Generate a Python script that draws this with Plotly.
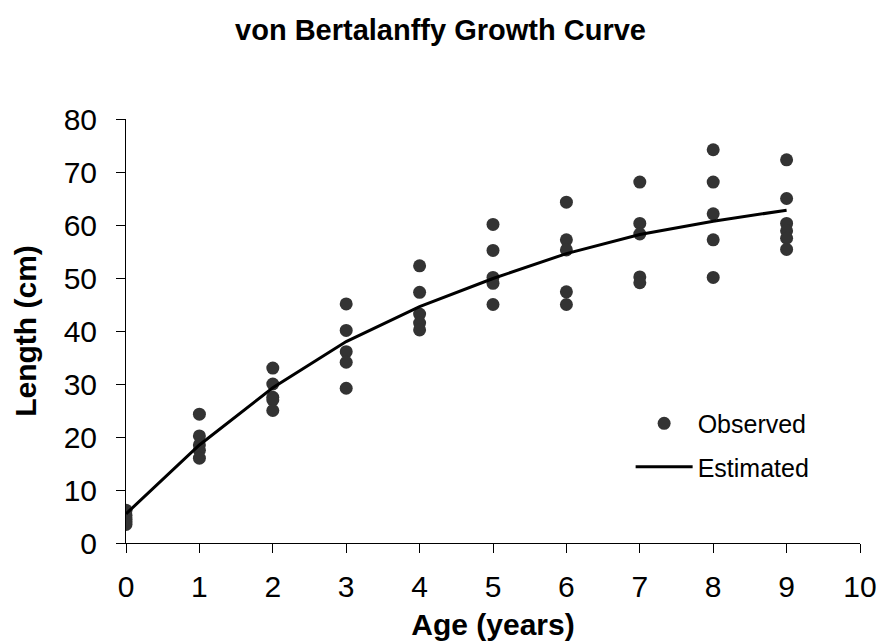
import plotly.graph_objects as go

# Observed data: ages and lengths (cm)
obs_age = [0, 0, 0, 0, 0,
           1, 1, 1, 1, 1,
           2, 2, 2, 2, 2,
           3, 3, 3, 3, 3,
           4, 4, 4, 4, 4,
           5, 5, 5, 5, 5,
           6, 6, 6, 6, 6,
           7, 7, 7, 7, 7,
           8, 8, 8, 8, 8,
           9, 9, 9, 9, 9, 9]
obs_len = [6.2, 5.2, 4.5, 4.0, 3.5,
           24.3, 20.2, 18.5, 17.5, 16.0,
           33.0, 30.0, 27.5, 27.0, 25.0,
           45.1, 40.1, 36.1, 34.1, 29.2,
           52.3, 47.3, 43.2, 41.5, 40.2,
           60.1, 55.2, 50.1, 49.0, 45.0,
           64.3, 57.2, 55.3, 47.4, 45.0,
           68.1, 60.3, 58.3, 50.2, 49.1,
           74.2, 68.1, 62.1, 57.2, 50.1,
           72.3, 65.0, 60.3, 58.9, 57.5, 55.4]

# Estimated (fitted) curve
est_age = [0, 1, 2, 3, 4, 5, 6, 7, 8, 9]
est_len = [5.5, 18.5, 29.3, 38.0, 44.6, 49.9, 54.6, 58.2, 60.7, 62.8]

x_ticks = [0, 1, 2, 3, 4, 5, 6, 7, 8, 9, 10]
y_ticks = [0, 10, 20, 30, 40, 50, 60, 70, 80]

FONT = "Liberation Sans, Arial, sans-serif"

fig = go.Figure()
fig.add_trace(go.Scatter(
    x=obs_age, y=obs_len, mode="markers", name="Observed",
    marker=dict(color="#333333", size=13, line=dict(width=0)),
    legendgroup="a",
))
fig.add_trace(go.Scatter(
    x=est_age, y=est_len, mode="lines", name="Estimated",
    line=dict(color="black", width=3),
    legendgroup="b",
))

fig.update_layout(
    width=881, height=642,
    margin=dict(l=126, r=21, t=119, b=99, autoexpand=False),
    plot_bgcolor="white", paper_bgcolor="white",
    font=dict(family=FONT, color="black"),
    title=dict(text="<b>von Bertalanffy Growth Curve</b>",
               font=dict(size=29, family=FONT, color="black"),
               x=0.5, xanchor="center", xref="container",
               y=1 - 30 / 642, yanchor="middle", yref="container"),
    showlegend=True,
    legend=dict(x=0.6875, y=0.336, xanchor="left", yanchor="top",
                bgcolor="rgba(0,0,0,0)", font=dict(size=25, family=FONT),
                itemwidth=57, tracegroupgap=8, traceorder="grouped"),
    xaxis=dict(range=[0, 10], tickvals=x_ticks, showgrid=False, zeroline=False,
               automargin=False,
               showline=True, linecolor="black", linewidth=1,
               ticks="outside", ticklen=9, tickcolor="black",
               tickfont=dict(size=30, family=FONT), ticklabelstandoff=8,
               title=dict(text="<b>Age (years)</b>", font=dict(size=30, family=FONT), standoff=11)),
    yaxis=dict(range=[0, 80], tickvals=y_ticks, showgrid=False, zeroline=False,
               automargin=False,
               showline=True, linecolor="black", linewidth=1,
               ticks="outside", ticklen=9, tickcolor="black",
               tickfont=dict(size=30, family=FONT), ticklabelstandoff=13,
               title=dict(text="<b>Length (cm)</b>", font=dict(size=30, family=FONT), standoff=18)),
)

fig.write_html("out.html", config={"displayModeBar": False},
               post_script="document.body.style.margin='0';document.body.style.overflow='hidden';")
